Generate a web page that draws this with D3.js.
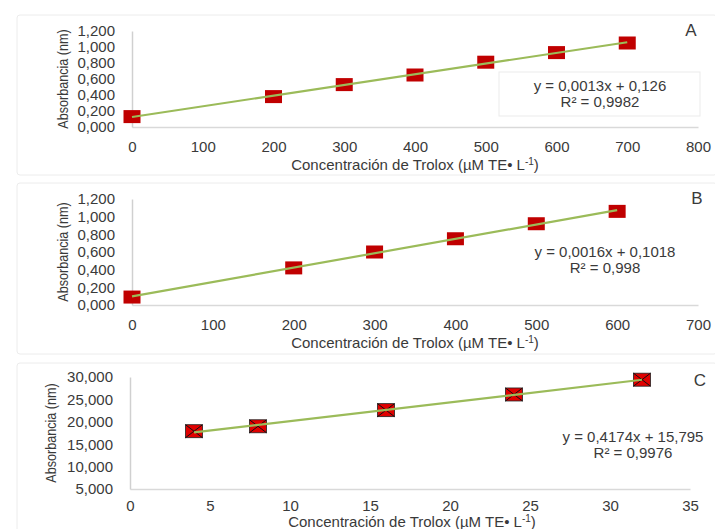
<!DOCTYPE html>
<html><head><meta charset="utf-8">
<script src="https://cdn.jsdelivr.net/npm/d3@7"></script>
<style>
body{margin:0;background:#fff;}
text{font-family:"Liberation Sans",Arial,sans-serif;fill:#3a3a3a;}
</style></head>
<body><svg id="c" width="715" height="529"></svg>
<script>
// Data
const xA = [0,200,300,400,500,600,700];
const yA = [0.13,0.38,0.53,0.65,0.81,0.93,1.05];
const xB = [0,200,300,400,500,600];
const yB = [0.09,0.42,0.60,0.75,0.92,1.06];
const xC = [4,8,16,24,32];
const yC = [17.9,19.0,22.6,26.1,29.4];
const ticksXA = [0,100,200,300,400,500,600,700,800];
const ticksXB = [0,100,200,300,400,500,600,700];
const ticksXC = [0,5,10,15,20,25,30,35];
const ticksYA = [0,0.2,0.4,0.6,0.8,1.0,1.2];
const ticksYC = [5,10,15,20,25,30];
const eqA = ["y = 0,0013x + 0,126","R² = 0,9982"];
const eqB = ["y = 0,0016x + 0,1018","R² = 0,998"];
const eqC = ["y = 0,4174x + 15,795","R² = 0,9976"];
const xTitle = "Concentración de Trolox (µM TE• L";
const yTitle = "Absorbancia (nm)";

const svg = d3.select("#c");
const fmt = v => d3.format(".3f")(v).replace(".", ",");

function regress(xs, ys){
  const mx=d3.mean(xs), my=d3.mean(ys);
  let num=0, den=0;
  xs.forEach((x,i)=>{num+=(x-mx)*(ys[i]-my);den+=(x-mx)*(x-mx);});
  const m=num/den; return [m, my-m*mx];
}

function panel(cfg){
  const g = svg.append("g");
  g.append("rect").attr("x",cfg.frame[0]).attr("y",cfg.frame[1])
    .attr("width",cfg.frame[2]).attr("height",cfg.frame[3])
    .attr("rx",3).attr("fill","#fff").attr("stroke","#ececec").attr("stroke-width",1);
  const x = d3.scaleLinear().domain(cfg.xd).range(cfg.xr);
  const y = d3.scaleLinear().domain(cfg.yd).range(cfg.yr);
  const xa = g.append("g").attr("transform",`translate(0,${cfg.yr[0]})`)
    .call(d3.axisBottom(x).tickValues(cfg.xt).tickSize(0).tickPadding(cfg.xpad).tickFormat(d3.format("d")));
  xa.select(".domain").attr("stroke","#d9d9d9").attr("stroke-width",1.5);
  xa.selectAll("text").style("font-size","15px").attr("fill","#3a3a3a");
  const ya = g.append("g").attr("transform",`translate(${cfg.xr[0]},0)`)
    .call(d3.axisLeft(y).tickValues(cfg.yt).tickSize(0).tickPadding(cfg.ypad).tickFormat(fmt));
  ya.select(".domain").attr("stroke","#d0d0d0").attr("stroke-width",1.5);
  ya.selectAll("text").style("font-size","15px").attr("fill","#3a3a3a");
  const ym = (cfg.yr[0]+cfg.yr[1])/2;
  g.append("text").attr("transform",`translate(${cfg.ytx},${ym}) rotate(-90) scale(0.9,1)`)
    .attr("text-anchor","middle").style("font-size","14px").text(yTitle);
  const t = g.append("text").attr("x",cfg.xtx).attr("y",cfg.xty).attr("text-anchor","middle").style("font-size","15px");
  t.append("tspan").text(xTitle);
  t.append("tspan").attr("dy",-5).style("font-size","10px").text("-1");
  t.append("tspan").attr("dy",5).text(")");
  const [m,b] = regress(cfg.xs, cfg.ys);
  const x0=d3.min(cfg.xs), x1=d3.max(cfg.xs);
  const mk = g.append("g");
  cfg.xs.forEach((xv,i)=>{
    const cx=x(xv), cy=y(cfg.ys[i]);
    mk.append("rect").attr("x",cx-8.5).attr("y",cy-6.5).attr("width",17).attr("height",13)
      .attr("fill",cfg.cross?"#e00000":"#c00000")
      .attr("stroke",cfg.cross?"#222":"none").attr("stroke-width",0.8);
    if(cfg.cross){
      mk.append("path").attr("d",`M${cx-8.5},${cy-6.5}L${cx+8.5},${cy+6.5}M${cx+8.5},${cy-6.5}L${cx-8.5},${cy+6.5}`)
        .attr("stroke","#111").attr("stroke-width",1);
    }
  });
  g.append("line").attr("x1",x(x0)).attr("y1",y(m*x0+b)).attr("x2",x(x1)).attr("y2",y(m*x1+b))
    .attr("stroke","#9bbb59").attr("stroke-width",2.2);
  if(cfg.box){
    g.append("rect").attr("x",cfg.box[0]).attr("y",cfg.box[1]).attr("width",cfg.box[2]).attr("height",cfg.box[3])
      .attr("fill","#fff").attr("stroke","#ebebeb");
  }
  cfg.eq.forEach((s,i)=>{
    g.append("text").attr("x",cfg.eqx).attr("y",cfg.eqy+i*15.5).attr("text-anchor","middle")
      .style("font-size","15px").text(s);
  });
  g.append("text").attr("x",cfg.lx).attr("y",cfg.ly).attr("text-anchor","middle")
    .style("font-size","17px").text(cfg.label);
}

panel({frame:[17,15,700,160], xd:[0,800], xr:[132,698], yd:[0,1.2], yr:[127,31],
  xt:ticksXA, yt:ticksYA, xpad:14, ypad:17, ytx:68, xtx:415, xty:170,
  xs:xA, ys:yA, box:[499,72,201,44], eq:eqA, eqx:600, eqy:91, label:"A", lx:691, ly:36});
panel({frame:[17,183,700,171], xd:[0,700], xr:[132,698], yd:[0,1.2], yr:[305,199],
  xt:ticksXB, yt:ticksYA, xpad:14, ypad:17, ytx:68, xtx:415, xty:348,
  xs:xB, ys:yB, box:null, eq:eqB, eqx:605, eqy:257, label:"B", lx:697, ly:204});
panel({frame:[17,363,700,175], xd:[0,35], xr:[130,690], yd:[5,30], yr:[489,377],
  xt:ticksXC, yt:ticksYC, xpad:11, ypad:17, ytx:56, xtx:412, xty:527,
  xs:xC, ys:yC, box:null, eq:eqC, eqx:633, eqy:442, cross:true, label:"C", lx:700, ly:386});
</script></body></html>
